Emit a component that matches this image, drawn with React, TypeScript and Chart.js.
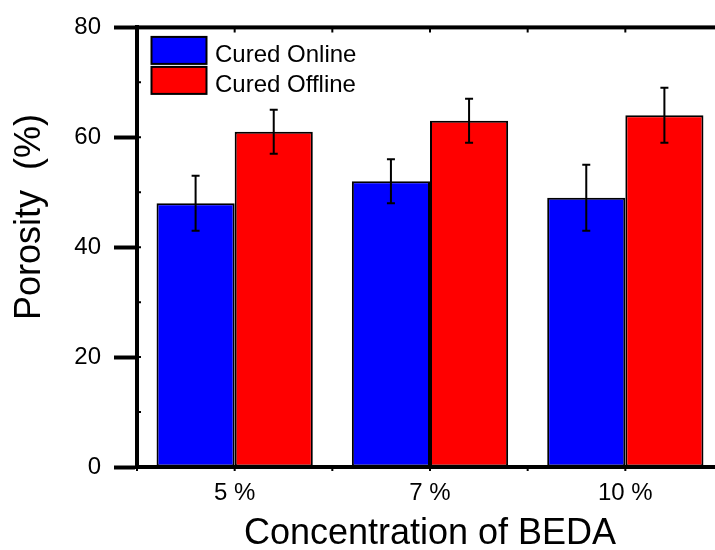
import React, { useEffect, useRef } from "react";
import { Chart, registerables } from "chart.js";

Chart.register(...registerables);

// ---- data ----
const categories = ["5 %", "7 %", "10 %"];
const seriesLabels = ["Cured Online", "Cured Offline"];
const onlineValues = [48, 52, 49];
const onlineErrors = [5, 4, 6];
const offlineValues = [61, 63, 64];
const offlineErrors = [4, 4, 5];
const yMin = 0;
const yMax = 80;
const yStep = 20;
const yMinorStep = 10;
const xTitle = "Concentration of BEDA";
const yTitle = "Porosity  (%)";

const FONT = "'Liberation Sans', Arial, Helvetica, sans-serif";
const CANVAS_W = 740;
const CANVAS_H = 550;
const AXIS_W = 4;

const errorBarPlugin = {
  id: "errorBars",
  afterDatasetsDraw(chart: any) {
    const ctx = chart.ctx;
    const y = chart.scales.y;
    chart.data.datasets.forEach((ds: any, di: number) => {
      const meta = chart.getDatasetMeta(di);
      meta.data.forEach((bar: any, i: number) => {
        const v = ds.data[i];
        const e = ds.errors[i];
        const top = y.getPixelForValue(v + e);
        const bot = y.getPixelForValue(v - e);
        const cx = bar.x;
        ctx.save();
        ctx.strokeStyle = "#000";
        ctx.lineWidth = 2;
        ctx.beginPath();
        ctx.moveTo(cx, top);
        ctx.lineTo(cx, bot);
        ctx.moveTo(cx - 4, top);
        ctx.lineTo(cx + 4, top);
        ctx.moveTo(cx - 4, bot);
        ctx.lineTo(cx + 4, bot);
        ctx.stroke();
        ctx.restore();
      });
    });
  },
};

const framePlugin = {
  id: "frame",
  afterDraw(chart: any) {
    const ctx = chart.ctx;
    const { left, right, top, bottom } = chart.chartArea;
    const x = chart.scales.x;
    const y = chart.scales.y;
    ctx.save();
    ctx.strokeStyle = "#000";
    ctx.lineJoin = "miter";
    ctx.lineWidth = AXIS_W;
    ctx.strokeRect(left, top, right - left, bottom - top);
    // minor ticks on top (inward) and bottom (outward)
    ctx.lineWidth = 2;
    const half = (x.getPixelForValue(1) - x.getPixelForValue(0)) / 2;
    ctx.beginPath();
    categories.forEach((_, i) => {
      const c = x.getPixelForValue(i);
      [c - half, c, c + half].forEach((px) => {
        ctx.moveTo(px, top);
        ctx.lineTo(px, top + 5);
        ctx.moveTo(px, bottom);
        ctx.lineTo(px, bottom + 4);
      });
    });
    // inward ticks on y axis
    for (let v = yMin + yMinorStep; v < yMax; v += yMinorStep) {
      const py = y.getPixelForValue(v);
      ctx.moveTo(left, py);
      ctx.lineTo(left + 4, py);
    }
    ctx.stroke();
    ctx.restore();
  },
};

const legendPlugin = {
  id: "boxLegend",
  afterDraw(chart: any) {
    const ctx = chart.ctx;
    const { left, top } = chart.chartArea;
    ctx.save();
    chart.data.datasets.forEach((ds: any, i: number) => {
      const bx = left + 14.5;
      const by = top + 9.5 + i * 30;
      const bw = 55;
      const bh = 27;
      ctx.fillStyle = ds.backgroundColor;
      ctx.fillRect(bx, by, bw, bh);
      ctx.lineWidth = 2;
      ctx.strokeStyle = "#000";
      ctx.strokeRect(bx, by, bw, bh);
      ctx.fillStyle = "#000";
      ctx.font = `24px ${FONT}`;
      ctx.textAlign = "left";
      ctx.textBaseline = "alphabetic";
      ctx.fillText(ds.label, left + 78, by + 25);
    });
    ctx.restore();
  },
};

const yTitlePlugin = {
  id: "yTitle",
  afterDraw(chart: any) {
    const ctx = chart.ctx;
    const { bottom } = chart.chartArea;
    ctx.save();
    ctx.translate(40, bottom - 147);
    ctx.rotate(-Math.PI / 2);
    ctx.fillStyle = "#000";
    ctx.font = `36px ${FONT}`;
    ctx.textAlign = "left";
    ctx.textBaseline = "alphabetic";
    ctx.fillText(yTitle, 0, 0);
    ctx.restore();
  },
};

export default function App() {
  const ref = useRef<HTMLCanvasElement>(null);

  useEffect(() => {
    const canvas = ref.current;
    if (!canvas) return;
    const chart = new Chart(canvas, {
      type: "bar",
      data: {
        labels: categories,
        datasets: [
          {
            label: seriesLabels[0],
            data: onlineValues,
            errors: onlineErrors,
            backgroundColor: "#0000FF",
            borderColor: "#000000",
            borderWidth: 2,
            borderSkipped: false,
          } as any,
          {
            label: seriesLabels[1],
            data: offlineValues,
            errors: offlineErrors,
            backgroundColor: "#FF0000",
            borderColor: "#000000",
            borderWidth: 2,
            borderSkipped: false,
          } as any,
        ],
      },
      options: {
        responsive: false,
        animation: false,
        layout: { padding: { left: 0, right: 17, top: 24, bottom: 0 } },
        datasets: { bar: { categoryPercentage: 0.8, barPercentage: 1.0 } },
        plugins: {
          legend: { display: false },
          tooltip: { enabled: false },
          title: { display: false },
        },
        scales: {
          x: {
            type: "category",
            grid: { display: false, drawTicks: false, tickLength: 0 },
            border: { display: true, color: "#000", width: AXIS_W, z: 1 },
            ticks: {
              color: "#000",
              font: { family: FONT, size: 24 },
              padding: 12,
              maxRotation: 0,
              autoSkip: false,
            },
            title: {
              display: true,
              text: xTitle,
              color: "#000",
              font: { family: FONT, size: 36, lineHeight: 0.86 },
              padding: 0,
            },
            afterFit: (s: any) => {
              s.height = 83;
            },
          },
          y: {
            min: yMin,
            max: yMax,
            ticks: {
              stepSize: yStep,
              color: "#000",
              font: { family: FONT, size: 24 },
              padding: 13,
            },
            grid: {
              drawOnChartArea: false,
              drawTicks: true,
              tickLength: 23,
              tickWidth: AXIS_W,
              tickColor: "#000",
              color: "#000",
            },
            border: { display: true, color: "#000", width: AXIS_W, z: 1 },
            afterFit: (s: any) => {
              s.width = 137;
            },
          },
        },
      } as any,
      plugins: [errorBarPlugin, framePlugin, legendPlugin, yTitlePlugin],
    });
    return () => chart.destroy();
  }, []);

  return (
    <div
      style={{
        position: "absolute",
        left: 0,
        top: 0,
        width: 715,
        height: 550,
        overflow: "hidden",
        background: "#fff",
      }}
    >
      <canvas
        ref={ref}
        width={CANVAS_W}
        height={CANVAS_H}
        style={{ display: "block", width: CANVAS_W, height: CANVAS_H }}
      />
    </div>
  );
}
